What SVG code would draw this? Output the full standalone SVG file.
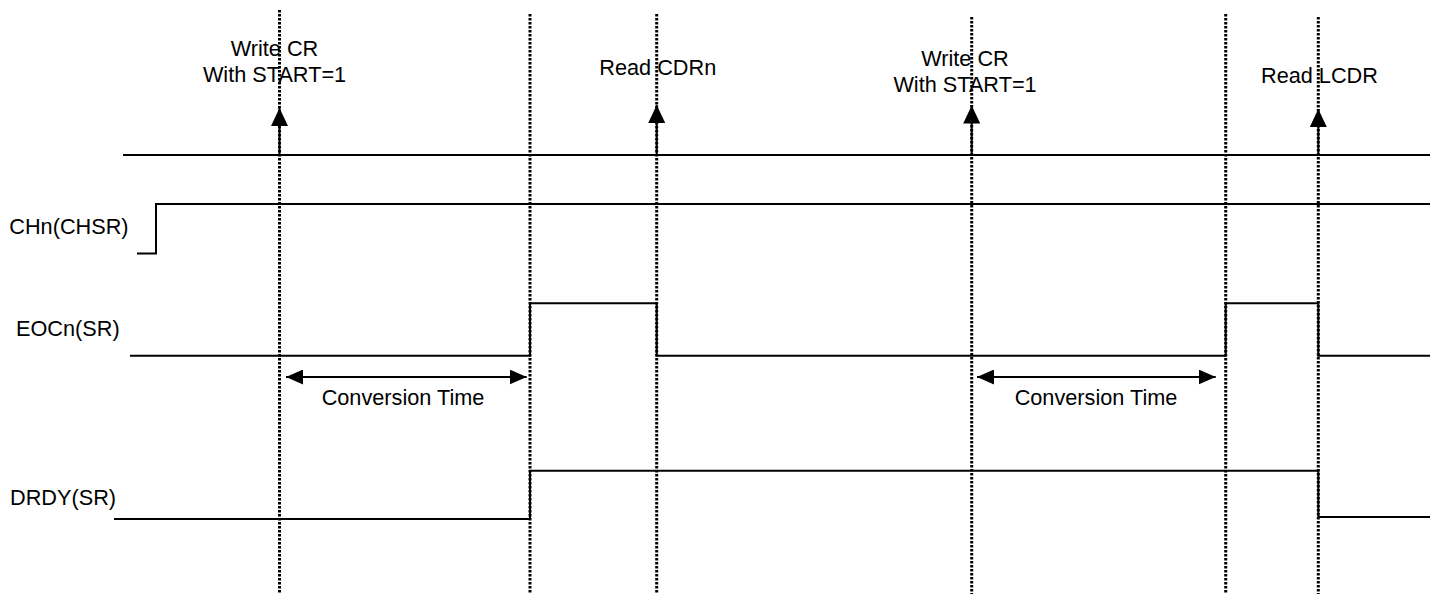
<svg xmlns="http://www.w3.org/2000/svg" width="1430" height="601" viewBox="0 0 1430 601">
<style>
.sig{fill:none;stroke:#000;stroke-width:2}
.dot{fill:none;stroke:#000;stroke-width:3;stroke-dasharray:2.5 1.5}
.arr{fill:none;stroke:#000;stroke-width:2}
text{font-family:"Liberation Sans",Arial,sans-serif;font-size:21.7px;fill:#000}
.c{text-anchor:middle}
</style>
<defs>
<marker id="ah" viewBox="0 0 10 10" refX="10" refY="5" markerWidth="17" markerHeight="15" markerUnits="userSpaceOnUse" orient="auto-start-reverse" preserveAspectRatio="none">
<path d="M0,0 L10,5 L0,10 Z" fill="#000"/>
</marker>
<marker id="av" viewBox="0 0 10 10" refX="10" refY="5" markerWidth="18" markerHeight="17" markerUnits="userSpaceOnUse" orient="auto" preserveAspectRatio="none">
<path d="M0,0 L10,5 L0,10 Z" fill="#000"/>
</marker>
</defs>
<rect width="1430" height="601" fill="#fff"/>
<g id="labels">
<text x="9.3" y="234">CHn(CHSR)</text>
<text x="16" y="335.7">EOCn(SR)</text>
<text x="10" y="505">DRDY(SR)</text>
</g>
<g id="signals">
<path id="top" class="sig" d="M123,155 H1430"/>
<path id="chn" class="sig" d="M137,253.5 H156 V204 H1430"/>
<path id="eocn" class="sig" d="M130,355.7 H530 V303.3 H656.7 V355.7 H1225.7 V303.3 H1318.3 V355.7 H1430"/>
<path id="drdy" class="sig" d="M114,519 H530 V470.7 H1318.3 V517 H1430"/>
</g>
<g id="connectors">
<line class="dot" x1="279.5" y1="10" x2="279.5" y2="594"/>
<line class="dot" x1="530" y1="14" x2="530" y2="594"/>
<line class="dot" x1="656.7" y1="14" x2="656.7" y2="594"/>
<line class="dot" x1="971.7" y1="17" x2="971.7" y2="594"/>
<line class="dot" x1="1225.7" y1="14" x2="1225.7" y2="594"/>
<line class="dot" x1="1318.3" y1="17" x2="1318.3" y2="594"/>
<line class="arr" x1="279.5" y1="155" x2="279.5" y2="108" marker-end="url(#av)"/>
<line class="arr" x1="656.7" y1="155" x2="656.7" y2="105" marker-end="url(#av)"/>
<line class="arr" x1="971.7" y1="155" x2="971.7" y2="105.5" marker-end="url(#av)"/>
<line class="arr" x1="1318.3" y1="155" x2="1318.3" y2="109" marker-end="url(#av)"/>
<line class="arr" x1="286" y1="377" x2="526.7" y2="377" marker-start="url(#ah)" marker-end="url(#ah)"/>
<line class="arr" x1="977" y1="377" x2="1215.7" y2="377" marker-start="url(#ah)" marker-end="url(#ah)"/>
</g>
<g id="annotations">
<text class="c" x="274.5" y="56">Write CR</text>
<text class="c" x="274.5" y="82">With START=1</text>
<text x="599.3" y="75">Read CDRn</text>
<text class="c" x="965" y="66">Write CR</text>
<text class="c" x="965" y="92">With START=1</text>
<text x="1261" y="82.5">Read LCDR</text>
<text class="c" x="403" y="405">Conversion Time</text>
<text class="c" x="1096" y="405">Conversion Time</text>
</g>
</svg>
